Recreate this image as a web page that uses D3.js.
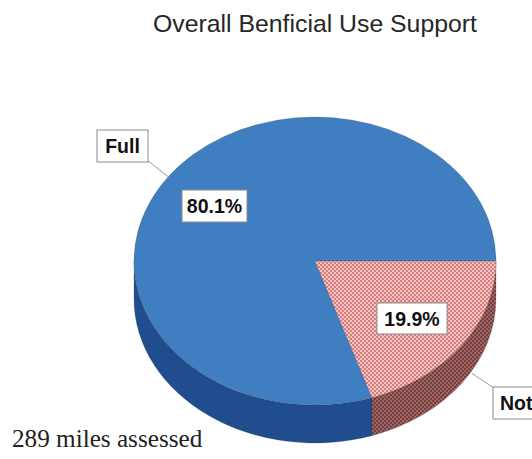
<!DOCTYPE html>
<html>
<head>
<meta charset="utf-8">
<script src="https://cdn.jsdelivr.net/npm/d3@7"></script>
<style>
  html, body { margin: 0; padding: 0; background: #fff; }
  svg { display: block; }
</style>
</head>
<body>
<script>
// ---- data ----
const title = "Overall Benficial Use Support";
const note = "289 miles assessed";
const categories = ["Full", "Not Supporting"];
const values = [80.1, 19.9];
const valueLabels = ["80.1%", "19.9%"];

// ---- layout ----
const W = 532, H = 459;
const cx = 315, cy = 261, rx = 181, ry = 144, depth = 38;

const svg = d3.select("body").append("svg").attr("width", W).attr("height", H);

const defs = svg.append("defs");
function dotPattern(id, bg, dot) {
  const p = defs.append("pattern").attr("id", id).attr("patternUnits", "userSpaceOnUse")
    .attr("width", 4).attr("height", 4);
  p.append("rect").attr("width", 4).attr("height", 4).attr("fill", bg);
  p.append("rect").attr("x", 0).attr("y", 0).attr("width", 2).attr("height", 2).attr("fill", dot);
  p.append("rect").attr("x", 2).attr("y", 2).attr("width", 2).attr("height", 2).attr("fill", dot);
}
dotPattern("pinkTop", "#f5c2c2", "#d67e7e");
dotPattern("pinkSide", "#a06464", "#744040");

const topFill = d3.scaleOrdinal().domain(categories).range(["#3f7fc1", "url(#pinkTop)"]);
const sideFill = d3.scaleOrdinal().domain(categories).range(["#1f4d8e", "url(#pinkSide)"]);

// pie: "Not" slice starts at 3 o'clock going clockwise, so Full starts after it
const total = d3.sum(values);
const offset = Math.PI / 2 + 2 * Math.PI * values[1] / total;
const pie = d3.pie().sort(null).value(d => d.v).startAngle(offset).endAngle(offset + 2 * Math.PI);
const arcs = pie(categories.map((c, i) => ({ c, v: values[i], label: valueLabels[i] })));

const pt = (a, dy = 0) => [cx + rx * Math.sin(a), cy - ry * Math.cos(a) + dy];

function topPath(a0, a1) {
  const p0 = pt(a0), p1 = pt(a1);
  const large = (a1 - a0) > Math.PI ? 1 : 0;
  return `M${cx},${cy}L${p0[0]},${p0[1]}A${rx},${ry} 0 ${large} 1 ${p1[0]},${p1[1]}Z`;
}
function sidePath(a0, a1) {
  // visible front portion: angles (mod 2pi) in [pi/2, 3pi/2]
  const segs = [];
  for (let k = -1; k <= 2; k++) {
    const lo = Math.PI / 2 + 2 * Math.PI * k, hi = 3 * Math.PI / 2 + 2 * Math.PI * k;
    const s = Math.max(a0, lo), e = Math.min(a1, hi);
    if (e > s) segs.push([s, e]);
  }
  return segs.map(([s, e]) => {
    const p0 = pt(s), p1 = pt(e), q1 = pt(e, depth), q0 = pt(s, depth);
    return `M${p0[0]},${p0[1]}A${rx},${ry} 0 0 1 ${p1[0]},${p1[1]}L${q1[0]},${q1[1]}A${rx},${ry} 0 0 0 ${q0[0]},${q0[1]}Z`;
  }).join("");
}

const g = svg.append("g");
g.selectAll("path.side").data(arcs).join("path").attr("class", "side")
  .attr("d", d => sidePath(d.startAngle, d.endAngle))
  .attr("fill", d => sideFill(d.data.c))
  .attr("stroke", "#3a3a3a").attr("stroke-opacity", 0.35).attr("stroke-width", 0.6);
g.selectAll("path.top").data(arcs).join("path").attr("class", "top")
  .attr("d", d => topPath(d.startAngle, d.endAngle))
  .attr("fill", d => topFill(d.data.c))
  .attr("stroke", "#3a3a3a").attr("stroke-opacity", 0.35).attr("stroke-width", 0.6);

// ---- title and note ----
svg.append("text").attr("x", 315).attr("y", 32).attr("text-anchor", "middle")
  .attr("font-family", "Liberation Sans, Arial, sans-serif").attr("font-size", 24.8)
  .attr("fill", "#262626").text(title);
svg.append("text").attr("x", 12).attr("y", 447)
  .attr("font-family", "Liberation Serif, Times New Roman, serif").attr("font-size", 25.2)
  .attr("fill", "#222").text(note);

// ---- labels ----
function box(x, y, w, h, text, tx) {
  svg.append("rect").attr("x", x).attr("y", y).attr("width", w).attr("height", h)
    .attr("fill", "#fff").attr("stroke", "#8a8a8a").attr("stroke-width", 1);
  svg.append("text").attr("x", tx !== undefined ? tx : x + w / 2).attr("y", y + h / 2 + 7)
    .attr("text-anchor", tx !== undefined ? "start" : "middle")
    .attr("font-family", "Liberation Sans, Arial, sans-serif").attr("font-weight", "bold")
    .attr("font-size", 19.5).attr("fill", "#111").text(text);
}
const mid = d => (d.startAngle + d.endAngle) / 2;
// leader lines
const fullMid = pt(mid(arcs[0]));
svg.append("line").attr("x1", fullMid[0]).attr("y1", fullMid[1]).attr("x2", 147).attr("y2", 160)
  .attr("stroke", "#999").attr("stroke-width", 1);
const notMid = pt(mid(arcs[1]), 28);
svg.append("line").attr("x1", notMid[0] + 10).attr("y1", notMid[1]).attr("x2", 494).attr("y2", 388)
  .attr("stroke", "#999").attr("stroke-width", 1);

box(97, 130, 51, 32, categories[0]);
box(182, 190, 65, 32, valueLabels[0]);
box(377, 303, 70, 31, valueLabels[1]);
box(493, 387, 120, 32, categories[1], 500);
</script>
</body>
</html>
